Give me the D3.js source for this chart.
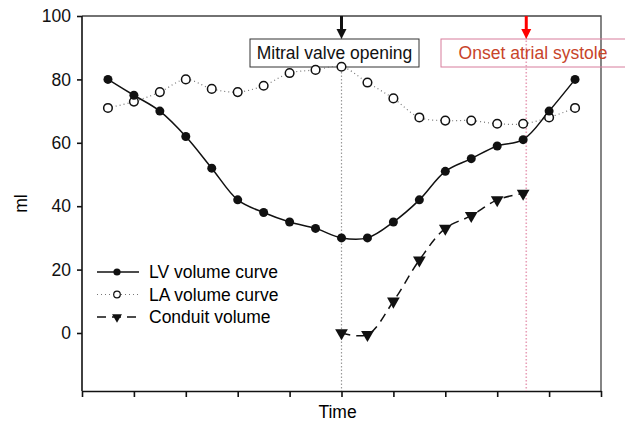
<!DOCTYPE html>
<html>
<head>
<meta charset="utf-8">
<script src="https://cdn.jsdelivr.net/npm/d3@7"></script>
<style>
  body { margin: 0; background: #fff; }
  text { font-family: "Liberation Sans", Arial, sans-serif; }
</style>
</head>
<body>
<script>
// data (x = time step, y = ml)
const timeSteps = d3.range(1, 20);
const lvVolume = [80, 75, 70, 62, 52, 42, 38, 35, 33, 30, 30, 35, 42, 51, 55, 59, 61, 70, 80];
const laVolume = [71, 73, 76, 80, 77, 76, 78, 82, 83, 84, 79, 74, 68, 67, 67, 66, 66, 68, 71];
const conduitSteps = [10, 11, 12, 13, 14, 15, 16, 17];
const conduitVolume = [0, -0.5, 10, 23, 33, 37, 42, 44];
const yTicks = [0, 20, 40, 60, 80, 100];
const xTicks = d3.range(0, 21, 2);
const events = ['Mitral valve opening', 'Onset atrial systole'];
const eventX = [10, 17.12];

const width = 625;
const height = 423;
const margin = { left: 82, right: 24, top: 16, bottom: 32 };
const fontSize = 17.5;

const svg = d3.select('body').append('svg')
  .attr('width', width)
  .attr('height', height);

const x = d3.scaleLinear().domain([0, 20]).range([margin.left, width - margin.right]);
const y = d3.scaleLinear().domain([-18.3, 100]).range([height - margin.bottom, margin.top]);

// frame (top and right)
svg.append('path')
  .attr('d', `M${x(0)},${y(100)}H${x(20)}V${y(-18.3)}`)
  .attr('fill', 'none')
  .attr('stroke', '#444')
  .attr('stroke-width', 1.3);

// axes
const gx = svg.append('g')
  .attr('transform', `translate(0,${y(-18.3)})`)
  .call(d3.axisBottom(x).tickValues(xTicks).tickFormat('').tickSize(6).tickSizeOuter(0));
const gy = svg.append('g')
  .attr('transform', `translate(${x(0)},0)`)
  .call(d3.axisLeft(y).tickValues(yTicks).tickSize(5).tickSizeOuter(0).tickPadding(6));
[gx, gy].forEach((g) => {
  g.selectAll('path, line').attr('stroke', '#111').attr('stroke-width', 1.6);
});
gy.selectAll('text').attr('font-size', fontSize).attr('fill', '#111');
gy.select('.domain').attr('d', `M0,${y(-18.3)}V${y(100)}`);

svg.append('text')
  .attr('transform', `translate(27,${(y(100) + y(-18.3)) / 2}) rotate(-90)`)
  .attr('text-anchor', 'middle')
  .attr('font-size', fontSize)
  .text('ml');
svg.append('text')
  .attr('x', x(10) - 4)
  .attr('y', 418)
  .attr('text-anchor', 'middle')
  .attr('font-size', fontSize)
  .text('Time');

// event marker lines
const eventColor = ['#111', 'red'];
const eventLine = ['#999', '#e8a0b8'];
eventX.forEach((ex, i) => {
  svg.append('line')
    .attr('x1', x(ex)).attr('x2', x(ex))
    .attr('y1', y(100)).attr('y2', y(-18.3))
    .attr('stroke', eventLine[i])
    .attr('stroke-width', i ? 1.6 : 1.2)
    .attr('stroke-dasharray', '1.5,2');
});

// event label boxes
const boxes = [
  { x0: 250, x1: 419, stroke: '#333', text: '#111', fill: '#fff' },
  { x0: 441, x1: 640, stroke: '#d77c9c', text: '#c8442a', fill: 'none' },
];
events.forEach((label, i) => {
  const b = boxes[i];
  svg.append('rect')
    .attr('x', b.x0).attr('y', 39)
    .attr('width', b.x1 - b.x0).attr('height', 28)
    .attr('fill', b.fill)
    .attr('stroke', b.stroke)
    .attr('stroke-width', 1);
  svg.append('text')
    .attr('x', i ? 533 : (b.x0 + b.x1) / 2)
    .attr('y', 59)
    .attr('text-anchor', 'middle')
    .attr('font-size', fontSize)
    .attr('fill', b.text)
    .text(label);
  // arrow
  const ax = x(eventX[i]);
  svg.append('line')
    .attr('x1', ax).attr('x2', ax)
    .attr('y1', y(100)).attr('y2', 30)
    .attr('stroke', eventColor[i])
    .attr('stroke-width', 3);
  svg.append('path')
    .attr('d', `M${ax - 5},29L${ax + 5},29L${ax},39Z`)
    .attr('fill', eventColor[i]);
});

// series
const curve = d3.curveCatmullRom.alpha(0.5);
const line = d3.line().curve(curve).x((d) => x(d[0])).y((d) => y(d[1]));

const lvData = d3.zip(timeSteps, lvVolume);
const laData = d3.zip(timeSteps, laVolume);
const cvData = d3.zip(conduitSteps, conduitVolume);

svg.append('path').datum(laData)
  .attr('d', line).attr('fill', 'none')
  .attr('stroke', '#777').attr('stroke-width', 1.2).attr('stroke-dasharray', '1,3');
svg.append('path').datum(lvData)
  .attr('d', line).attr('fill', 'none')
  .attr('stroke', '#111').attr('stroke-width', 1.5);
svg.append('path').datum(cvData)
  .attr('d', line).attr('fill', 'none')
  .attr('stroke', '#111').attr('stroke-width', 1.5).attr('stroke-dasharray', '9,6');

const tri = d3.symbol().type(d3.symbolTriangle).size(70);
const triSmall = d3.symbol().type(d3.symbolTriangle).size(42);

svg.append('g').selectAll('circle').data(laData).join('circle')
  .attr('cx', (d) => x(d[0])).attr('cy', (d) => y(d[1])).attr('r', 4.3)
  .attr('fill', '#fff').attr('stroke', '#111').attr('stroke-width', 1.5);
svg.append('g').selectAll('circle').data(lvData).join('circle')
  .attr('cx', (d) => x(d[0])).attr('cy', (d) => y(d[1])).attr('r', 4.5)
  .attr('fill', '#111');
svg.append('g').selectAll('path').data(cvData).join('path')
  .attr('d', tri)
  .attr('transform', (d) => `translate(${x(d[0])},${y(d[1])}) rotate(180)`)
  .attr('fill', '#111');

// legend
const legend = [
  { name: 'LV volume curve', dash: null, stroke: '#111', marker: 'fill' },
  { name: 'LA volume curve', dash: '1,3', stroke: '#777', marker: 'open' },
  { name: 'Conduit volume', dash: '9,6', stroke: '#111', marker: 'tri' },
];
const lg = svg.append('g').selectAll('g').data(legend).join('g')
  .attr('transform', (d, i) => `translate(97,${272 + i * 22.5})`);
lg.append('line')
  .attr('x1', 0).attr('x2', 42)
  .attr('stroke', (d) => d.stroke)
  .attr('stroke-width', (d) => (d.marker === 'open' ? 1.2 : 1.5))
  .attr('stroke-dasharray', (d) => d.dash);
lg.each(function drawMarker(d) {
  const g = d3.select(this);
  if (d.marker === 'fill') {
    g.append('circle').attr('cx', 20).attr('r', 3.6).attr('fill', '#111');
  } else if (d.marker === 'open') {
    g.append('circle').attr('cx', 20).attr('r', 3.3).attr('fill', '#fff')
      .attr('stroke', '#111').attr('stroke-width', 1.2);
  } else {
    g.append('path').attr('d', triSmall).attr('transform', 'translate(20,0) rotate(180)').attr('fill', '#111');
  }
});
lg.append('text')
  .attr('x', 52).attr('y', 6)
  .attr('font-size', fontSize)
  .text((d) => d.name);
</script>
</body>
</html>
